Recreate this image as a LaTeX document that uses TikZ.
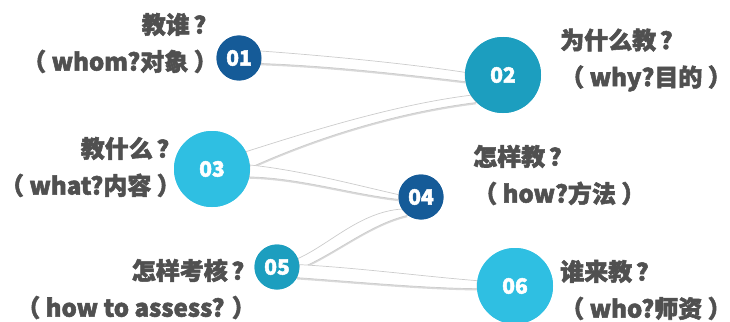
\documentclass[tikz,border=0pt]{standalone}
\usepackage{fontspec}
\setmainfont{Noto Sans CJK SC Bold}[FakeBold=2.2]
\usetikzlibrary{shadows}
\definecolor{darkblue}{HTML}{155B98}
\definecolor{teal}{HTML}{1C9EBF}
\definecolor{skyblue}{HTML}{2FBFE2}
\definecolor{textgrey}{HTML}{505050}

\begin{document}
\begin{tikzpicture}[x=1pt,y=-1pt,
        ball/.style={circle,inner sep=0pt,text=white,font=\bfseries\fontsize{21}{21}\selectfont},
        small/.style={ball,minimum size=45pt},
        big/.style={ball,minimum size=76pt},
        label/.style={inner sep=0pt,text=textgrey,font=\bfseries\fontsize{24}{37}\selectfont},
        ribbon/.style={fill=white,draw=gray!40,line width=0.7pt,line join=round,
            drop shadow={shadow xshift=0pt,shadow yshift=-1.8pt,fill=gray!50,opacity=0.6}},
    ]
        \useasboundingbox (0,0) rectangle (730,321);
        % circles
        \node[small,fill=darkblue] (n1) at (239,58) {01};
        \node[big,fill=teal] (n2) at (503,75) {02};
        \node[big,fill=skyblue] (n3) at (212,169) {03};
        \node[small,fill=darkblue] (n4) at (421,197) {04};
        \node[small,fill=teal] (n5) at (277,267) {05};
        \node[big,fill=skyblue] (n6) at (515,286) {06};
        % ribbons
        \filldraw[ribbon] (n1.18) .. controls (330,56) and (410,64) .. (n2.176)
            -- (n2.190) .. controls (400,74) and (330,66) .. (n1.-14) -- cycle;
        \filldraw[ribbon] (n3.27) .. controls (320,128) and (400,104) .. (n2.212)
            -- (n2.226) .. controls (400,112) and (320,136) .. (n3.2) -- cycle;
        \filldraw[ribbon] (n3.6) .. controls (300,170) and (360,186) .. (n4.174)
            -- (n4.186) .. controls (350,194) and (300,178) .. (n3.-12) -- cycle;
        \filldraw[ribbon] (n5.22) .. controls (330,244) and (360,212) .. (n4.212)
            -- (n4.234) .. controls (370,224) and (335,254) .. (n5.-4) -- cycle;
        \filldraw[ribbon] (n5.6) .. controls (360,268) and (420,276) .. (n6.172)
            -- (n6.184) .. controls (420,288) and (360,282) .. (n5.-28) -- cycle;
        % circles again on top
        \node[small,fill=darkblue] at (n1) {01};
        \node[big,fill=teal] at (n2) {02};
        \node[big,fill=skyblue] at (n3) {03};
        \node[small,fill=darkblue] at (n4) {04};
        \node[small,fill=teal] at (n5) {05};
        \node[big,fill=skyblue] at (n6) {06};
        % labels
        \node[label,anchor=east,align=right] (t1) at (218,43) {教谁\,？\\（ whom?对象 ）};
        \node[label,anchor=west,align=left] (t2) at (560,60) {为什么教\,？\\（ why?目的 ）};
        \node[label,anchor=east,align=right] (t3) at (181,167) {教什么\,？\\（ what?内容 ）};
        \node[label,anchor=west,align=left] (t4) at (473,175) {怎样教\,？\\（ how?方法 ）};
        \node[label,anchor=east,align=right] (t5) at (256,289) {怎样考核\,？\\（ how to assess? ）};
        \node[label,anchor=west,align=left] (t6) at (560,290) {谁来教\,？\\（ who?师资 ）};
    \end{tikzpicture}
\end{document}
